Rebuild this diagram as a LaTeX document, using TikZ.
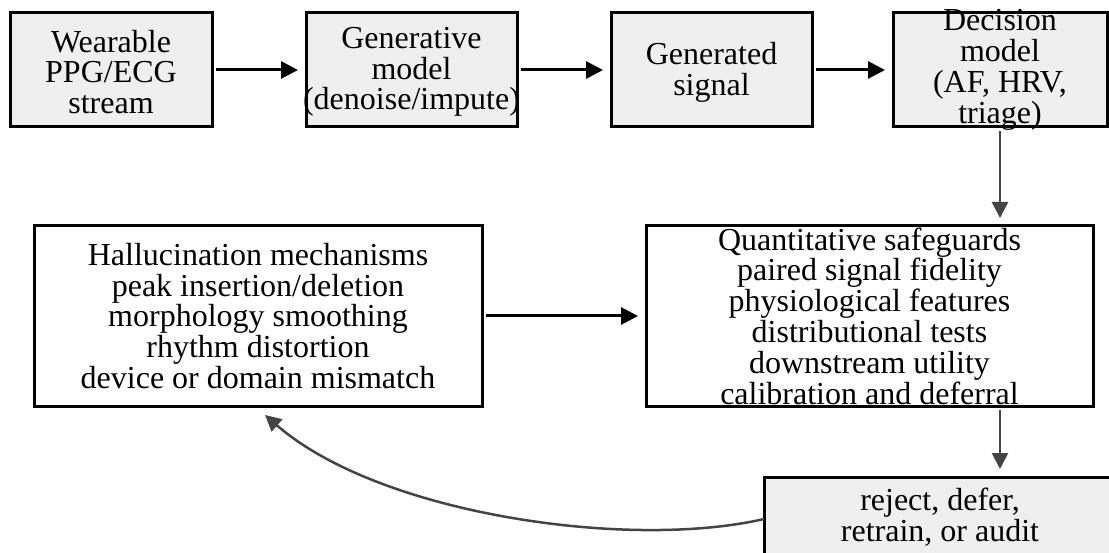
\documentclass[tikz,border=0pt]{standalone}
\usepackage{fontspec}
\setmainfont{Liberation Serif}
\usetikzlibrary{arrows.meta,calc}
\definecolor{boxgray}{HTML}{EFEFEF}
\definecolor{arrgray}{HTML}{444444}
\tikzset{
  boxnode/.style={draw=black, line width=3pt, fill=boxgray, inner sep=0pt, outer sep=0pt},
  wboxnode/.style={boxnode, fill=white},
  txt/.style={align=center, inner sep=0pt, font=\fontsize{32}{30.8}\selectfont},
  barr/.style={draw=black, line width=3pt, -{Triangle[length=17pt,width=17pt]}, shorten <=4pt, shorten >=8pt},
  garr/.style={draw=arrgray, line width=2.5pt, -{Triangle[length=16pt,width=16pt]}, shorten <=4pt, shorten >=8pt},
}
\begin{document}
\begin{tikzpicture}[x=1pt,y=-1pt]
\useasboundingbox (0,0) rectangle (1109,553);
\clip (0,0) rectangle (1109,553);
\fill[white] (0,0) rectangle (1109,553);
% top row
\node[boxnode, minimum width=202pt, minimum height=114pt] (b1) at (111,70) {};
\node[txt] (t1) at ($(b1)+(0,2)$) {Wearable\\PPG/ECG\\stream};
\node[boxnode, minimum width=211pt, minimum height=114pt] (b2) at (411.5,70) {};
\node[txt] (t2) at ($(b2)+(0,2)$) {Generative\\model\\(denoise/impute)};
\node[boxnode, minimum width=201pt, minimum height=114pt] (b3) at (711.5,70) {};
\node[txt] (t3) at ($(b3)+(0,2)$) {Generated\\signal};
\node[boxnode, minimum width=214pt, minimum height=114pt] (b4) at (1000,70) {};
\node[txt] (t4) at (b4) {Decision\\model\\(AF, HRV,\\triage)};
% middle row
\node[wboxnode, minimum width=448pt, minimum height=180pt] (h) at (258,316) {};
\node[txt] (th) at (h) {Hallucination mechanisms\\peak insertion/deletion\\morphology smoothing\\rhythm distortion\\device or domain mismatch};
\node[wboxnode, minimum width=447pt, minimum height=180pt] (q) at (869.5,316) {};
\node[txt] (tq) at (q) {Quantitative safeguards\\paired signal fidelity\\physiological features\\distributional tests\\downstream utility\\calibration and deferral};
% bottom
\node[boxnode, minimum width=352pt, minimum height=80pt] (r) at (940,517) {};
\node[txt] (tr) at (r) {reject, defer,\\retrain, or audit};
% connectors
\draw[barr] (b1.east) -- (b2.west);
\draw[barr] (b2.east) -- (b3.west);
\draw[barr] (b3.east) -- (b4.west);
\draw[barr] (h.east) -- (q.west);
\draw[garr] (b4.south) -- (b4.south |- q.north);
\draw[garr] (q.south -| b4.south) -- (r.north -| b4.south);
\coordinate (ctip) at (265,415);
\draw[draw=arrgray, line width=2.5pt, -{Triangle[length=16pt,width=16pt]}]
  (r.west |- 0,519) .. controls (630,550) and (380,515) .. (ctip);
\end{tikzpicture}
\end{document}
